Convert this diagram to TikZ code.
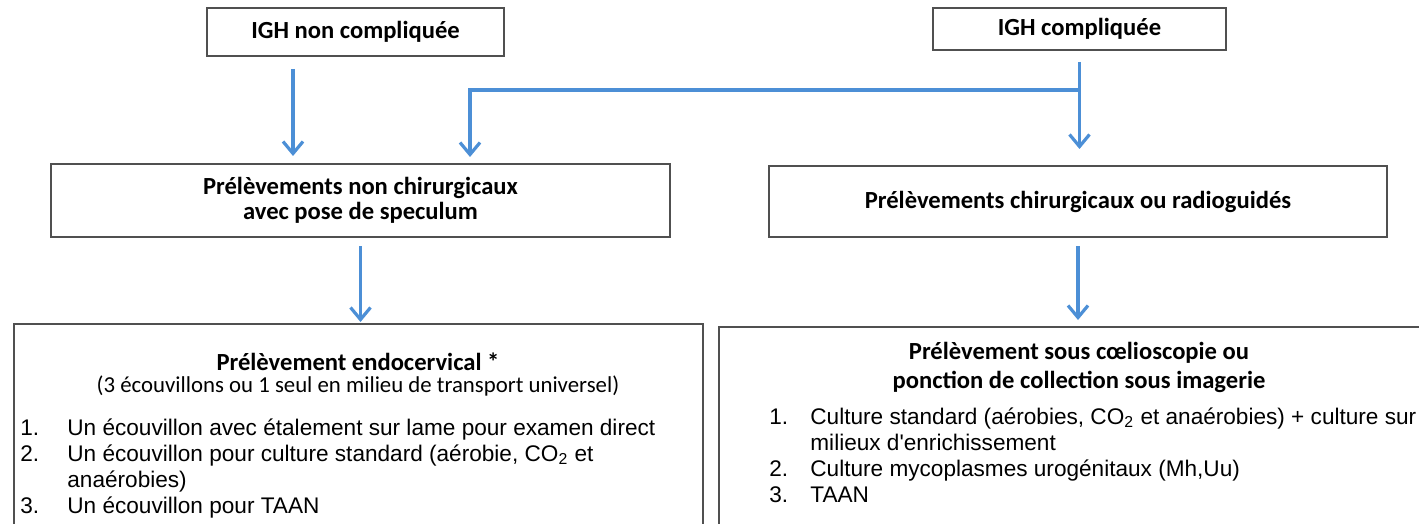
\documentclass[tikz,border=0pt]{standalone}
\usepackage{fontspec}
\setmainfont{Carlito}
\newfontfamily\arialfont{Liberation Sans}
\usetikzlibrary{positioning,arrows.meta,calc}

\definecolor{arrowblue}{RGB}{76,143,214}
\definecolor{boxgray}{RGB}{80,80,80}

\tikzset{
  >={Straight Barb[length=6pt,width=10pt]},
  box/.style={draw=boxgray, line width=1pt, inner sep=0pt},
  title/.style={font=\bfseries\fontsize{12.3}{12.5}\selectfont, align=center},
  link/.style={draw=arrowblue, line width=1.6pt},
  sub/.style={font=\fontsize{11.4}{12}\selectfont},
  items/.style={font=\arialfont\fontsize{11.3}{13}\selectfont, anchor=base west, inner sep=0pt},
}

\begin{document}
\begin{tikzpicture}[x=0.5pt,y=-0.5pt]
\useasboundingbox (0,0) rectangle (1419,524);
\clip (0,0) rectangle (1419,524);

% top row
\node[box,title,minimum width=148.5pt,minimum height=24pt] (igh) at (355.5,32) {IGH non compliquée};
\node[box,title,minimum width=146.5pt,minimum height=21pt] (ighc) at (1079.5,29) {IGH compliquée};

% middle row
\node[box,title,minimum width=309.5pt,minimum height=36.5pt] (nonchir) at (360.5,200.5) {Prélèvements non chirurgicaux\\avec pose de speculum};
\node[box,title,minimum width=309pt,minimum height=35.5pt] (chir) at (1078,201.5) {Prélèvements chirurgicaux ou radioguidés};

% bottom row, cut off by the page
\node[box,anchor=north west,minimum width=344.5pt,minimum height=120pt] (endo) at (13,323) {};
\node[box,anchor=north west,minimum width=360pt,minimum height=120pt] (coelio) at (718,326) {};

\node[title] (endot) at (358,362) {Prélèvement endocervical *};
\node[sub] (endos) at (358,386) {(3 écouvillons ou 1 seul en milieu de transport universel)};
\node[items] (endol) at (20,435) {\begin{tabular}[t]{@{}p{23.5pt}@{}l@{}}
1. & Un écouvillon avec étalement sur lame pour examen direct\\
2. & Un écouvillon pour culture standard (aérobie, CO\textsubscript{2} et\\
   & anaérobies)\\
3. & Un écouvillon pour TAAN
\end{tabular}};

\node[title,font=\bfseries\fontsize{12.3}{14.5}\selectfont] (coeliot) at (1079,367.5) {Prélèvement sous cœlioscopie ou\\ponction de collection sous imagerie};
\node[items] (coeliol) at (769,424) {\begin{tabular}[t]{@{}p{20.5pt}@{}l@{}}
1. & Culture standard (aérobies, CO\textsubscript{2} et anaérobies) + culture sur\\
   & milieux d'enrichissement\\
2. & Culture mycoplasmes urogénitaux (Mh,Uu)\\
3. & TAAN
\end{tabular}};

% connectors
\coordinate (bend) at (470,90);
\coordinate (split) at (ighc.south |- bend);
\draw[link,->,shorten <=6pt,shorten >=3.5pt] ([xshift=-31.25pt]igh.south) -- ([xshift=-31.25pt]igh.south |- nonchir.north);
\draw[link,->,shorten <=5.5pt,shorten >=8pt] (ighc.south) -- (ighc.south |- chir.north);
\draw[link,->,shorten >=3pt] (split) -- (bend) -- (bend |- nonchir.north);
\draw[link,->,shorten <=4pt,shorten >=0.5pt] (nonchir.south) -- (nonchir.south |- endo.north);
\draw[link,->,shorten <=4pt,shorten >=3pt] (chir.south) -- (chir.south |- coelio.north);

\end{tikzpicture}
\end{document}
